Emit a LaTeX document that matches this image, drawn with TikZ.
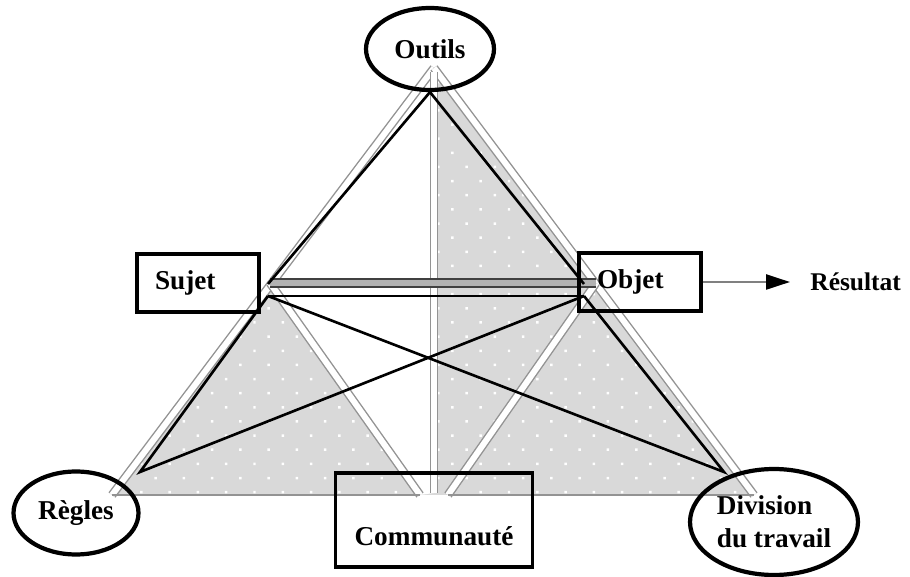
\documentclass[tikz,border=0pt]{standalone}
\usepackage{fontspec}
\setmainfont{Liberation Serif}
\usetikzlibrary{shapes.geometric,arrows.meta,patterns.meta}

\begin{document}
\begin{tikzpicture}[x=0.02cm, y=-0.02cm,
    font=\bfseries\fontsize{15.5}{19}\selectfont,
    pole/.style={ellipse, draw, line width=2.4pt, inner sep=0pt},
    pane/.style={rectangle, draw, line width=2.2pt, inner ysep=2pt, inner xsep=0.36cm,
        minimum width=2.44cm, minimum height=1.15cm, text width=1.72cm, align=left},
    gap/.style={draw=gray!85, line width=0.8pt, double=white, double distance=3.4pt},
    band/.style={draw=black!75, line width=1.4pt, double=gray!60, double distance=3pt},
    edge/.style={line width=1.5pt, black}]
    \useasboundingbox (0,0) rectangle (910,577);

    \coordinate (top) at (434,68);
    \coordinate (left) at (112,495);
    \coordinate (right) at (754,495);
    \coordinate (sl) at (270,283);
    \coordinate (sr) at (596,283);
    \coordinate (vt) at (434,72);
    \coordinate (cb) at (434,493);
    \coordinate (cl) at (420,495);
    \coordinate (cr) at (448,495);

    \fill[gray!30] (top) -- (left) -- (right) -- cycle;
    \fill[pattern={Dots[distance=0.4cm, angle=45, radius=1pt]}, pattern color=white]
        (top) -- (left) -- (right) -- cycle;
    \fill[white] (top) -- (sl) -- (cl) -- (cb) -- cycle;

    \draw[gap] (top) -- (left);
    \draw[gap] (top) -- (right);
    \draw[gap] (vt) -- (cb);
    \draw[gap] (sl) -- (cl);
    \draw[gap] (sr) -- (cr);
    \draw[band] (sl) -- (sr);
    \draw[gray!85, line width=1pt] (left) -- (cl) (cr) -- (right);

    \node[pole, minimum width=2.56cm, minimum height=1.64cm] (outils) at (430,49) {Outils};
    \node[pane] (sujet) at (198,283) {Sujet};
    \node[pane] (objet) at (640,282) {Objet};
    \node[pole, minimum width=2.5cm, minimum height=1.66cm] (regles) at (76,513) {Règles};
    \node[pole, minimum width=3.36cm, minimum height=2.12cm, align=left] (division) at (774,522)
        {Division\\du travail};
    \node[rectangle, draw, line width=2.2pt, minimum width=3.94cm, minimum height=1.88cm,
        text height=1.2cm, text depth=0.16cm] (communaute) at (434,520) {Communauté};
    \node[anchor=west, inner sep=0pt, font=\bfseries\fontsize{14.5}{17}\selectfont]
        (resultat) at (810,282) {Résultat};

    \coordinate (s) at (268,284);
    \coordinate (o) at (584,284);
    \coordinate (s2) at (268,296);
    \coordinate (o2) at (584,296);
    \coordinate (rg) at (140,472);
    \coordinate (dv) at (724,472);

    \draw[edge] (s) -- (outils.south) -- (o);
    \draw[edge] (s2) -- (o2);
    \draw[edge] (s2) -- (rg) -- (o2);
    \draw[edge] (o2) -- (dv) -- (s2);

    \draw[-{Triangle[length=0.48cm, width=0.3cm, color=black]}, gray, line width=1.3pt,
        shorten >=0.4cm] (objet) -- (resultat);
\end{tikzpicture}
\end{document}
